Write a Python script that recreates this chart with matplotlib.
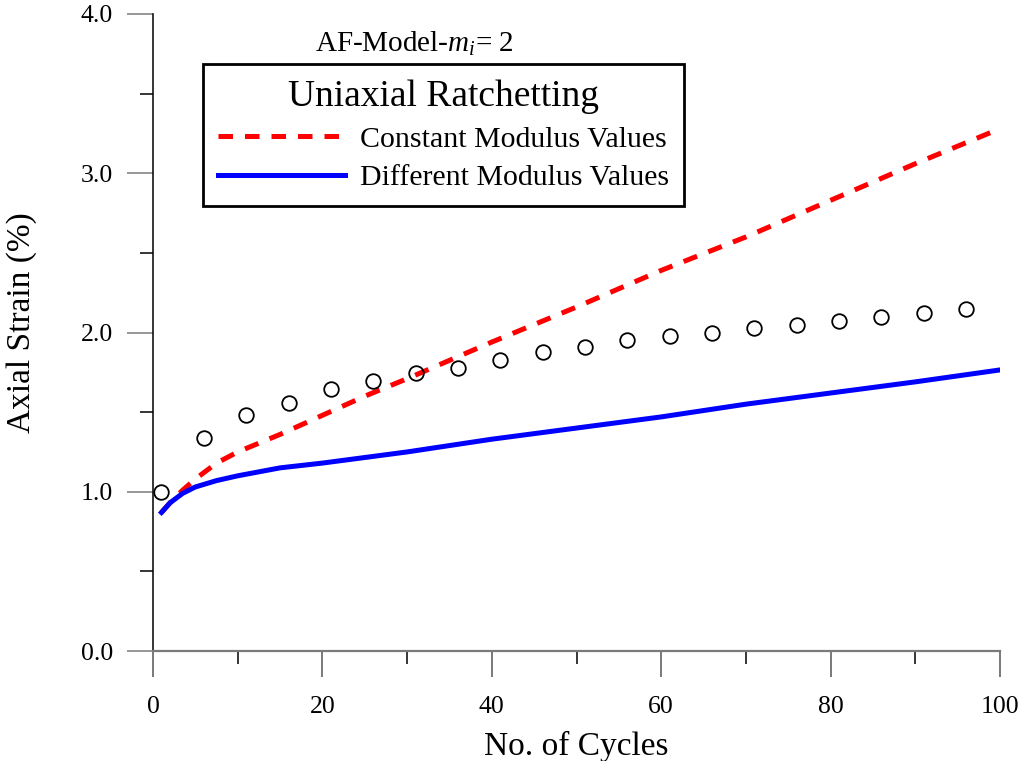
import numpy as np
import matplotlib.pyplot as plt
from matplotlib.ticker import MultipleLocator, FormatStrFormatter

plt.rcParams['font.family'] = 'Liberation Serif'
plt.rcParams['mathtext.fontset'] = 'custom'
plt.rcParams['mathtext.rm'] = 'Liberation Serif'
plt.rcParams['mathtext.it'] = 'Liberation Serif:italic'

# experiment (open circles)
exp_n = [1, 6, 11, 16, 21, 26, 31, 36, 41, 46, 51, 56, 61, 66, 71, 76, 81, 86, 91, 96]
exp_strain = [1.00, 1.34, 1.48, 1.56, 1.645, 1.695, 1.745, 1.78, 1.83, 1.88,
              1.91, 1.95, 1.98, 2.00, 2.03, 2.05, 2.07, 2.10, 2.12, 2.15]

# constant modulus values (red dashed)
const_n = [1, 2, 3.5, 5, 7.5, 10, 15, 20, 25, 30, 40, 50, 60, 70, 80, 90, 100]
const_strain = [0.87, 0.93, 1.01, 1.08, 1.18, 1.25, 1.36, 1.48, 1.60, 1.71,
                1.94, 2.16, 2.39, 2.60, 2.83, 3.06, 3.28]

# different modulus values (blue solid)
diff_n = [1, 2, 3.5, 5, 7.5, 10, 15, 20, 25, 30, 35, 40, 50, 60, 70, 80, 90, 100]
diff_strain = [0.87, 0.93, 0.99, 1.03, 1.07, 1.10, 1.15, 1.18, 1.215, 1.25,
               1.29, 1.33, 1.40, 1.47, 1.55, 1.62, 1.69, 1.765]

fig = plt.figure(figsize=(10.19, 7.61), dpi=100)
ax = fig.add_axes([153/1019, 110/761, 847/1019, 637/761])

ax.plot(const_n, const_strain, color='red', lw=3.6, dashes=(2.9, 2.4),
        label='Constant Modulus Values')
ax.plot(diff_n, diff_strain, color='blue', lw=3.6, label='Different Modulus Values')
ax.plot(exp_n, exp_strain, 'o', mfc='none', mec='black', ms=10.5, mew=1.3)

ax.set_xlim(0, 100)
ax.set_ylim(0, 4)
ax.xaxis.set_major_locator(MultipleLocator(20))
ax.xaxis.set_minor_locator(MultipleLocator(10))
ax.yaxis.set_major_locator(MultipleLocator(1))
ax.yaxis.set_minor_locator(MultipleLocator(0.5))
ax.yaxis.set_major_formatter(FormatStrFormatter('%.1f'))

for s in ['top', 'right']:
    ax.spines[s].set_visible(False)
ax.spines['left'].set_linewidth(1.1)
ax.spines['bottom'].set_linewidth(1.6)
ax.spines['bottom'].set_color('#7a7a7a')

ax.tick_params(which='major', direction='out', length=18.7, width=1.1, labelsize=18.5)
ax.tick_params(which='minor', direction='out', length=9.4, width=1.1)
ax.tick_params(axis='y', which='major', color='#7a7a7a', pad=10)
ax.tick_params(axis='x', which='major', color='#555555', pad=14)

ax.set_xlabel('No. of Cycles', fontsize=24, labelpad=9)
ax.set_ylabel('Axial Strain (%)', fontsize=24)
ax.yaxis.set_label_coords(-0.137, 0.515)

ax.text(30.9, 3.81, 'AF-Model-$m_i$= 2', fontsize=21, ha='center', va='center')

leg = ax.legend(loc='upper left', bbox_to_anchor=(0.059, 0.921), borderaxespad=0,
                title='Uniaxial Ratchetting', fontsize=21.5, title_fontsize=27,
                fancybox=False, edgecolor='black', framealpha=1,
                handlelength=4.25, handletextpad=0.5, borderpad=0.5,
                labelspacing=0.4)
leg.get_frame().set_linewidth(2.0)

fig.savefig('out.png', dpi=100)
